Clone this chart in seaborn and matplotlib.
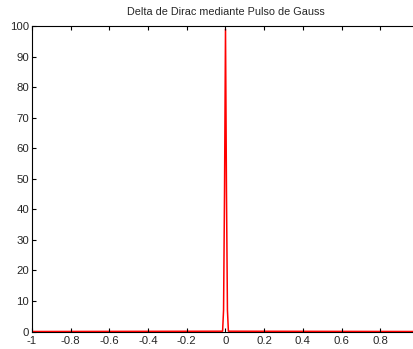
import matplotlib
matplotlib.use("Agg")
import matplotlib.pyplot as plt
import seaborn as sns
import pandas as pd

# Gaussian pulse approximating the Dirac delta (sampled points)
t = [-1.0, -0.015, -0.01, -0.005, 0.0, 0.005, 0.01, 0.015, 1.0]
amplitude = [0.0, 0.1, 7.0, 45.9, 99.0, 45.9, 7.0, 0.1, 0.0]

x_ticks = [-1, -0.8, -0.6, -0.4, -0.2, 0, 0.2, 0.4, 0.6, 0.8]
x_tick_labels = ["-1", "-0.8", "-0.6", "-0.4", "-0.2", "0", "0.2", "0.4", "0.6", "0.8"]
y_ticks = [0, 10, 20, 30, 40, 50, 60, 70, 80, 90, 100]

title = "Delta de Dirac mediante Pulso de Gauss"

sns.set_style("white")
plt.rcParams["font.family"] = ["Liberation Sans", "DejaVu Sans"]

df = pd.DataFrame({"t": t, "amplitude": amplitude})

fig = plt.figure(figsize=(4.14, 3.49), dpi=100)
ax = fig.add_axes([32.0 / 414, 17.5 / 349, (419.0 - 32.0) / 414, 305.5 / 349])

sns.lineplot(data=df, x="t", y="amplitude", color="red", linewidth=1.1,
             estimator=None, sort=False, ax=ax, zorder=2.6)

ax.set_xlim(-1, 1)
ax.set_ylim(0, 100)
ax.set_xticks(x_ticks)
ax.set_xticklabels(x_tick_labels)
ax.set_yticks(y_ticks)
ax.set_xlabel("")
ax.set_ylabel("")

for side in ["left", "top", "right", "bottom"]:
    ax.spines[side].set_visible(True)
    ax.spines[side].set_color("black")
    ax.spines[side].set_linewidth(0.8)
    ax.spines[side].set_zorder(2.5)

ax.tick_params(axis="both", which="both", direction="in", length=3, width=0.8,
               color="black", labelsize=8.2,
               top=True, right=True, bottom=True, left=True)
ax.tick_params(axis="x", pad=3)
ax.tick_params(axis="y", pad=2)
ax.xaxis.set_zorder(2.7)
ax.yaxis.set_zorder(2.7)

ax.set_title(title, fontsize=7.8, pad=8)

fig.savefig("out.png", dpi=100)
